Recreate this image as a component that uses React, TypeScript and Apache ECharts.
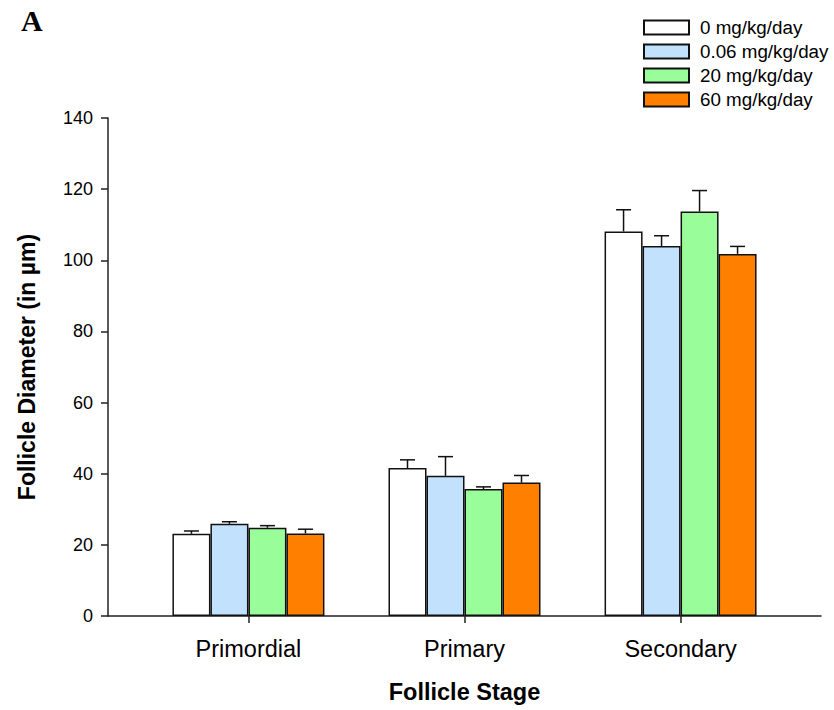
import React, { useEffect, useRef } from "react";
import * as echarts from "echarts";

const categories = ["Primordial", "Primary", "Secondary"];
const doseNames = ["0 mg/kg/day", "0.06 mg/kg/day", "20 mg/kg/day", "60 mg/kg/day"];
const doseColors = ["#ffffff", "#c1e1fc", "#99fd99", "#ff8000"];
const means0 = [23.1, 41.6, 108.1];
const means006 = [25.9, 39.4, 104.0];
const means20 = [24.8, 35.7, 113.7];
const means60 = [23.2, 37.5, 101.8];
const err0 = [0.8, 2.3, 6.1];
const err006 = [0.6, 5.4, 2.9];
const err20 = [0.6, 0.6, 5.9];
const err60 = [1.2, 2.0, 2.1];
const yTicks = [0, 20, 40, 60, 80, 100, 120, 140];

const allMeans = [means0, means006, means20, means60];
const allErrs = [err0, err006, err20, err60];

const FONT = "Liberation Sans, Arial, sans-serif";
const BAR_W = 38;

export default function App() {
  const ref = useRef<HTMLDivElement>(null);
  useEffect(() => {
    if (!ref.current) return;
    document.body.style.margin = "0";
    const chart = echarts.init(ref.current, null, { renderer: "svg" });
    const catPos = categories.map((_, i) => i + 1);
    const barSeries = doseNames.map((name, s) => ({
      name,
      type: "bar",
      barWidth: BAR_W,
      barGap: "0%",
      itemStyle: { color: doseColors[s], borderColor: "#111", borderWidth: 1.5 },
      data: catPos.map((x, i) => [x, allMeans[s][i]]),
      z: 2,
    }));
    const errData: number[][] = [];
    doseNames.forEach((_, s) => {
      catPos.forEach((x, i) => errData.push([x, allMeans[s][i], allErrs[s][i], s]));
    });
    const option: any = {
      animation: false,
      backgroundColor: "#ffffff",
      textStyle: { fontFamily: FONT },
      grid: { left: 108, right: 13, top: 118, bottom: 94, containLabel: false },
      legend: {
        data: doseNames,
        orient: "vertical",
        left: 643,
        top: 18,
        padding: 0,
        icon: "rect",
        itemWidth: 45,
        itemHeight: 14,
        itemGap: 5,
        textStyle: { fontFamily: FONT, fontSize: 18.8, color: "#000", lineHeight: 18, height: 18, padding: [0, 0, 0, 6] },
      },
      xAxis: {
        type: "value",
        min: 0.35,
        max: 3.65,
        splitLine: { show: false },
        axisLine: { show: true, onZero: false, lineStyle: { color: "#222", width: 1.5 } },
        axisTick: { show: true, length: 7, customValues: catPos, lineStyle: { color: "#222", width: 1.5 } },
        axisLabel: {
          customValues: catPos,
          formatter: (v: number) => categories[Math.round(v) - 1] ?? "",
          fontFamily: FONT,
          fontSize: 23.5,
          color: "#000",
          margin: 21,
        },
        name: "Follicle Stage",
        nameLocation: "middle",
        nameGap: 64,
        nameTextStyle: { fontFamily: FONT, fontSize: 23.5, fontWeight: "bold", color: "#000" },
      },
      yAxis: {
        type: "value",
        min: 0,
        max: 140,
        interval: 20,
        splitLine: { show: false },
        axisLine: { show: true, lineStyle: { color: "#222", width: 1.5 } },
        axisTick: { show: true, length: 7, lineStyle: { color: "#222", width: 1.5 } },
        axisLabel: {
          fontFamily: FONT,
          fontSize: 18,
          color: "#000",
          margin: 15,
          customValues: yTicks,
        },
        name: "Follicle Diameter (in µm)",
        nameLocation: "middle",
        nameGap: 70,
        nameTextStyle: { fontFamily: FONT, fontSize: 23, fontWeight: "bold", color: "#000" },
      },
      graphic: [
        {
          type: "text",
          left: 21,
          top: 5,
          style: { text: "A", font: "bold 30px 'Liberation Serif', 'Times New Roman', serif", fill: "#000" },
        },
      ],
      series: [
        ...barSeries,
        {
          type: "custom",
          z: 3,
          data: errData,
          renderItem: (params: any, api: any) => {
            const x = api.value(0);
            const m = api.value(1);
            const e = api.value(2);
            const s = api.value(3);
            const base = api.coord([x, m]);
            const top = api.coord([x, m + e]);
            const cx = base[0] + (s - 1.5) * BAR_W;
            const style = { stroke: "#111", lineWidth: 1.5 };
            return {
              type: "group",
              children: [
                { type: "line", shape: { x1: cx, y1: base[1], x2: cx, y2: top[1] }, style },
                { type: "line", shape: { x1: cx - 7.5, y1: top[1], x2: cx + 7.5, y2: top[1] }, style },
              ],
            };
          },
        },
      ],
    };
    chart.setOption(option);
    return () => chart.dispose();
  }, []);
  return <div ref={ref} style={{ width: 834, height: 710 }} />;
}
